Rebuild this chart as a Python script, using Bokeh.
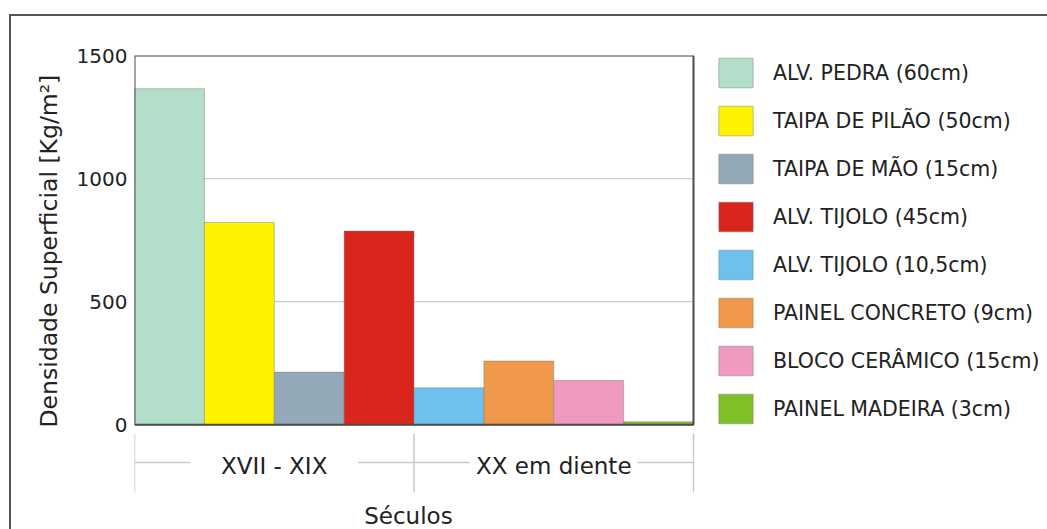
import math
from bokeh.plotting import figure
from bokeh.models import (ColumnDataSource, Range1d, FixedTicker, Legend,
                          LegendItem, Title, InlineStyleSheet)
from bokeh.core.properties import value
from bokeh.embed import file_html
from bokeh.resources import INLINE

# ---------------- data ----------------
groups = ["XVII - XIX", "XX em diente"]
materials = ["ALV. PEDRA (60cm)", "TAIPA DE PILÃO (50cm)", "TAIPA DE MÃO (15cm)",
             "ALV. TIJOLO (45cm)", "ALV. TIJOLO (10,5cm)", "PAINEL CONCRETO (9cm)",
             "BLOCO CERÂMICO (15cm)", "PAINEL MADEIRA (3cm)"]
material_group = [0, 0, 0, 0, 1, 1, 1, 1]
density = [1365, 822, 214, 787, 150, 259, 180, 12]
colors = ["#b3dec9", "#fff200", "#94a9b8", "#da251c",
          "#6ec1ef", "#f0994a", "#f09abf", "#7fc028"]
y_ticks = [0, 500, 1000, 1500]
grid_values = [500, 1000]
x_title = "Séculos"
y_title = "Densidade Superficial [Kg/m²]"

# ---------------- geometry ----------------
FONT = "DejaVu Sans"
TEXT = "#222222"
W, H = 1047, 529
LEFT, TOP = 134, 55
BAR_RIGHT = 693
ZERO_PX = 424.3
Y_MAX = 1500
n = len(materials)
frame_w = W - LEFT
frame_h = H - TOP
px_per_unit_x = (BAR_RIGHT - LEFT) / n
px_per_val = (ZERO_PX - TOP) / Y_MAX
y_bottom = -(H - ZERO_PX) / px_per_val
x_end = frame_w / px_per_unit_x


def ypx(py):
    return (ZERO_PX - py) / px_per_val


p = figure(width=W, height=H, x_range=Range1d(0, x_end),
           y_range=Range1d(y_bottom, Y_MAX),
           x_axis_location=None, output_backend="svg", toolbar_location=None,
           min_border_left=LEFT, min_border_top=TOP, min_border_right=0,
           min_border_bottom=0)
p.outline_line_color = None
p.xgrid.grid_line_color = None
p.ygrid.grid_line_color = None
p.background_fill_color = "white"
p.border_fill_color = "white"

# outer frame of the picture (page decoration)
p.stylesheets = [InlineStyleSheet(css=(
    ":host::after{content:'';position:absolute;left:9px;top:14px;"
    "width:1038px;height:515px;box-sizing:border-box;"
    "border:2px solid #555555;border-right:none;border-bottom:none;"
    "pointer-events:none;}"))]

# grid lines across the bar area
p.segment(x0=[0] * len(grid_values), x1=[n] * len(grid_values),
          y0=grid_values, y1=grid_values, line_color="#cccccc", line_width=1.2)

# bars
src = ColumnDataSource(dict(x=[i + 0.5 for i in range(n)], top=density,
                            color=colors, name=materials))
bars = p.vbar(x="x", top="top", width=1, bottom=0, source=src,
              fill_color="color", line_color="#6f7f77", line_alpha=0.45,
              line_width=1)

# plot box
p.quad(left=[0], right=[n], bottom=[0], top=[Y_MAX], fill_color=None,
       line_color="#4a4a4a", line_width=2)

# y axis
ax = p.yaxis[0]
ax.ticker = FixedTicker(ticks=y_ticks)
ax.bounds = (0, Y_MAX)
ax.axis_line_color = None
ax.major_tick_line_color = None
ax.minor_tick_line_color = None
ax.major_tick_out = 0
ax.major_tick_in = 0
ax.major_label_standoff = 7
ax.major_label_text_font = FONT
ax.major_label_text_font_size = "20px"
ax.major_label_text_color = TEXT

# y title (left side panel, starting just above the zero line)
p.add_layout(Title(text=y_title, align="left", offset=H - 427,
                   text_font=FONT, text_font_size="23.5px",
                   text_font_style="normal", text_color=TEXT, standoff=22),
             "left")

# category decoration
bounds = [0]
for g in range(len(groups)):
    bounds.append(bounds[-1] + material_group.count(g))
centers = [(bounds[i] + bounds[i + 1]) / 2 for i in range(len(groups))]
LINE = "#c9c9c9"
p.segment(x0=bounds, x1=bounds, y0=[ypx(433)] * len(bounds),
          y1=[ypx(492)] * len(bounds), line_color=LINE, line_width=1.5)
stub = 0.8
hx0, hx1 = [], []
for i in range(len(groups)):
    hx0 += [bounds[i], bounds[i + 1] - stub]
    hx1 += [bounds[i] + stub, bounds[i + 1]]
p.segment(x0=hx0, x1=hx1, y0=[ypx(462)] * len(hx0), y1=[ypx(462)] * len(hx0),
          line_color=LINE, line_width=1.5)
p.text(x=centers, y=[ypx(465)] * len(groups), text=groups,
       text_font=value(FONT), text_font_size="23px", text_color=TEXT,
       text_align="center", text_baseline="middle")
p.text(x=[n / 2 - 0.08], y=[ypx(515)], text=[x_title],
       text_font=value(FONT), text_font_size="23px", text_color=TEXT,
       text_align="center", text_baseline="middle")

# legend
items = [LegendItem(label=m, renderers=[bars], index=i) for i, m in enumerate(materials)]
GLYPH_H, SPACING = 37, 11
leg_h = n * GLYPH_H + (n - 1) * SPACING
legend = Legend(items=items, location=(714 - LEFT, H - (54 + leg_h)),
                padding=0, margin=0, spacing=SPACING, glyph_width=43,
                glyph_height=GLYPH_H, label_height=GLYPH_H, label_standoff=16,
                label_text_font=FONT, label_text_font_size="20.5px",
                label_text_color=TEXT, border_line_color=None,
                background_fill_alpha=0)
p.add_layout(legend)

open("out.html", "w").write(file_html(p, INLINE))
